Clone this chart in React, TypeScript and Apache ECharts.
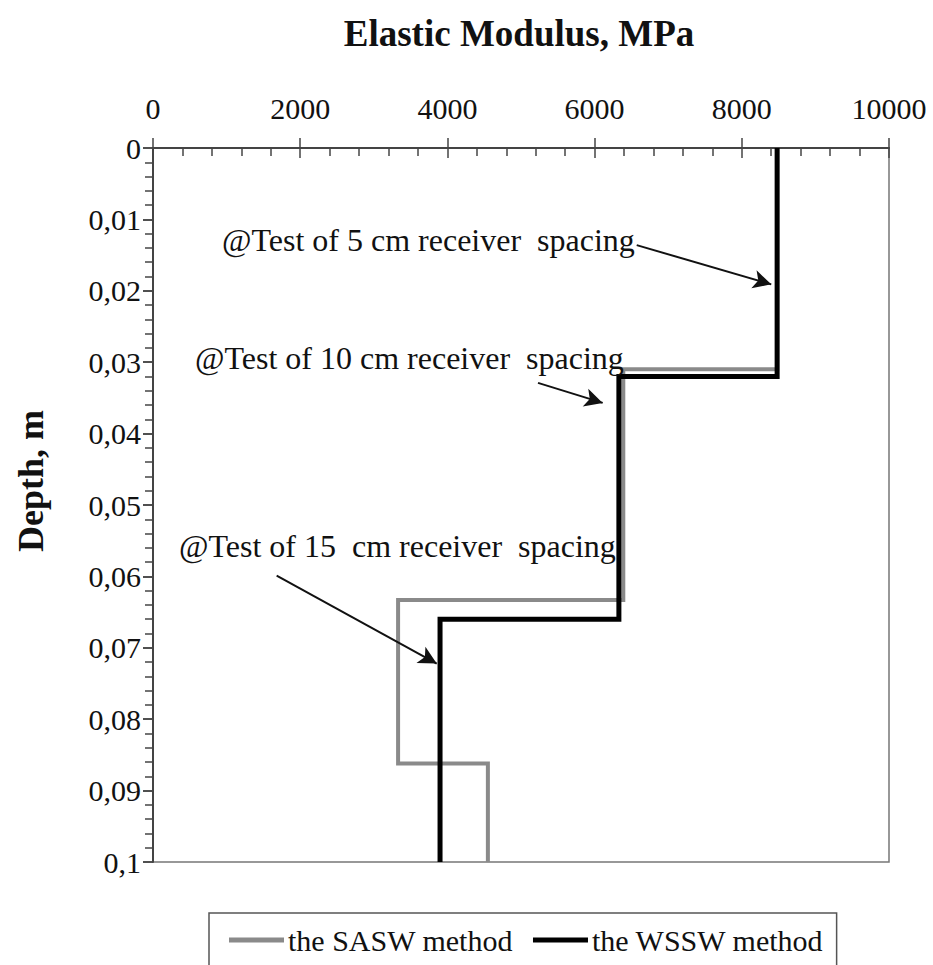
import React, { useEffect, useRef } from "react";
import * as echarts from "echarts";

const xTicks = [0, 2000, 4000, 6000, 8000, 10000];
const depthTicks = [0, 0.01, 0.02, 0.03, 0.04, 0.05, 0.06, 0.07, 0.08, 0.09, 0.1];

const seriesNames = ["the SASW method", "the WSSW method"];
// [modulus MPa, depth m]
const saswPoints: [number, number][] = [
  [8480, 0], [8480, 0.031], [6390, 0.031], [6390, 0.0633],
  [3330, 0.0633], [3330, 0.0862], [4550, 0.0862], [4550, 0.1],
];
const wsswPoints: [number, number][] = [
  [8480, 0], [8480, 0.032], [6330, 0.032], [6330, 0.066],
  [3900, 0.066], [3900, 0.1],
];

const annotationTexts = [
  "@Test of 5 cm receiver  spacing",
  "@Test of 10 cm receiver  spacing",
  "@Test of 15  cm receiver  spacing",
];
// arrows in data coordinates: [start, end]
const arrowStarts: [number, number][] = [[6572, 0.0136], [5231, 0.0329], [1680, 0.0599]];
const arrowEnds: [number, number][] = [[8400, 0.0191], [6110, 0.0357], [3855, 0.0722]];

const FONT = "'Liberation Serif', 'Times New Roman', serif";

export default function App() {
  const ref = useRef<HTMLDivElement>(null);
  useEffect(() => {
    const chart = echarts.init(ref.current!, null, { renderer: "svg" });
    const textColor = "#111";
    const axisColor = "#444";
    const common = {
      type: "value" as const,
      min: 0,
      max: 10000,
      interval: 2000,
      splitLine: { show: false },
    };
    const fmtDepth = (v: number) => String(parseFloat(v.toFixed(3))).replace(".", ",");
    const annPos = [
      { x: 222, y: 240 },
      { x: 195, y: 358 },
      { x: 179, y: 546 },
    ];
    chart.setOption({
      animation: false,
      backgroundColor: "#fff",
      grid: {
        left: 153,
        top: 148,
        right: 44,
        bottom: 103,
        show: true,
        borderColor: "#777",
        borderWidth: 1.5,
      },
      xAxis: [
        {
          ...common,
          position: "top",
          axisLine: { show: true, lineStyle: { color: axisColor, width: 2 } },
          axisTick: { show: true, inside: false, length: 10, lineStyle: { color: axisColor, width: 1.5 } },
          axisLabel: {
            show: true,
            fontSize: 30,
            fontFamily: FONT,
            color: textColor,
            margin: 25,
            formatter: (v: number) => (xTicks.includes(v) ? String(v) : ""),
          },
        },
        {
          ...common,
          position: "top",
          axisLine: { show: false },
          axisLabel: { show: false },
          axisTick: { show: true, inside: true, length: 10, lineStyle: { color: axisColor, width: 1.5 } },
          minorTick: { show: true, splitNumber: 5, length: 8, lineStyle: { color: axisColor, width: 1.5 } },
        },
      ],
      yAxis: [
        {
          type: "value",
          inverse: true,
          min: 0,
          max: 0.1,
          interval: 0.01,
          splitLine: { show: false },
          axisLine: { show: true, lineStyle: { color: axisColor, width: 2 } },
          axisTick: { show: true, inside: false, length: 10, lineStyle: { color: axisColor, width: 1.5 } },
          axisLabel: {
            fontSize: 30,
            fontFamily: FONT,
            color: textColor,
            margin: 12,
            formatter: (v: number) => (depthTicks.some((d) => Math.abs(d - v) < 1e-9) ? fmtDepth(v) : ""),
          },
        },
        {
          type: "value",
          inverse: true,
          min: 0,
          max: 0.1,
          interval: 0.01,
          splitLine: { show: false },
          axisLine: { show: false },
          axisLabel: { show: false },
          axisTick: { show: true, inside: true, length: 10, lineStyle: { color: axisColor, width: 1.5 } },
          minorTick: { show: true, splitNumber: 5, length: 8, lineStyle: { color: axisColor, width: 1.5 } },
        },
      ],
      legend: {
        left: 209,
        top: 913,
        orient: "horizontal",
        padding: [12, 13, 40, 20],
        itemGap: 20,
        itemWidth: 55,
        itemHeight: 5,
        borderColor: "#555",
        borderWidth: 1.5,
        textStyle: { fontSize: 30, fontFamily: FONT, color: textColor, padding: [0, 0, 0, -1] },
        data: [
          { name: seriesNames[0], icon: "rect", itemStyle: { color: "#8a8a8a" } },
          { name: seriesNames[1], icon: "rect", itemStyle: { color: "#000" } },
        ],
      },
      series: [
        {
          name: seriesNames[0],
          type: "line",
          xAxisIndex: 0,
          yAxisIndex: 0,
          data: saswPoints,
          showSymbol: false,
          symbol: "none",
          color: "#8a8a8a",
          lineStyle: { color: "#8a8a8a", width: 4, join: "miter" },
          z: 2,
        },
        {
          name: seriesNames[1],
          type: "line",
          xAxisIndex: 0,
          yAxisIndex: 0,
          data: wsswPoints,
          showSymbol: false,
          symbol: "none",
          color: "#000",
          lineStyle: { color: "#000", width: 5, join: "miter" },
          z: 3,
          markLine: {
            silent: true,
            symbol: ["none", "arrow"],
            symbolSize: [14, 18],
            label: { show: false },
            lineStyle: { color: "#111", width: 2, type: "solid" },
            data: arrowStarts.map((s, i) => [{ coord: s }, { coord: arrowEnds[i] }]),
          },
        },
      ],
      graphic: [
        {
          type: "text",
          x: 519,
          y: 33,
          style: {
            text: "Elastic Modulus, MPa",
            fontSize: 37,
            fontWeight: "bold",
            fontFamily: FONT,
            fill: textColor,
            textAlign: "center",
            textVerticalAlign: "middle",
          },
        },
        {
          type: "text",
          x: 31,
          y: 481,
          rotation: Math.PI / 2,
          style: {
            text: "Depth, m",
            fontSize: 36,
            fontWeight: "bold",
            fontFamily: FONT,
            fill: textColor,
            textAlign: "center",
            textVerticalAlign: "middle",
          },
        },
        ...annotationTexts.map((t, i) => ({
          type: "text",
          x: annPos[i].x,
          y: annPos[i].y,
          z: 10,
          style: {
            text: t,
            fontSize: 32,
            fontFamily: FONT,
            fill: textColor,
            textAlign: "left",
            textVerticalAlign: "middle",
          },
        })),
      ],
    });
    return () => chart.dispose();
  }, []);
  return (
    <div
      ref={ref}
      style={{ position: "fixed", left: 0, top: 0, width: 933, height: 965, background: "#fff" }}
    />
  );
}
